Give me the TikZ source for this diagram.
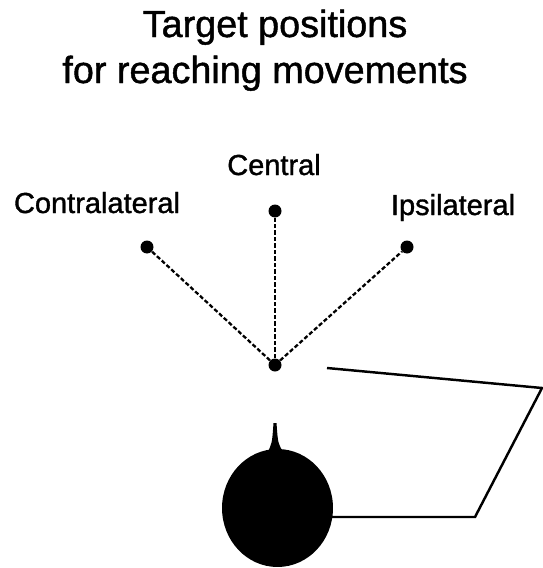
\documentclass[tikz,border=0pt]{standalone}
\usepackage{fontspec}
\setmainfont{Liberation Sans}
\newfontfamily\figfont[FakeBold=1.2]{Liberation Sans}
\usepackage{tikz}
\usetikzlibrary{shapes.geometric}
\usetikzlibrary{positioning}
\tikzstyle{target} = [circle, fill=black, inner sep=0pt, minimum size=2.6mm]
\tikzstyle{tag} = [anchor=base, font=\figfont\fontsize{16.5}{18}\selectfont]
\tikzstyle{heading} = [anchor=base, font=\figfont\fontsize{21.5}{24}\selectfont]
\tikzstyle{reach} = [line width=1.3pt, dash pattern=on 2.4pt off 1.3pt]
\tikzstyle{arm} = [line width=1.4pt, line join=miter]

\begin{document}
\begin{tikzpicture}[x=0.02cm, y=-0.02cm]

    \useasboundingbox (0,0) rectangle (542,568);

    \node (title) [heading] at (275,37) {Target positions};
    \node (subtitle) [heading] at (265,83) {for reaching movements};

    \node (start) [target] at (275,365) {};
    \node (contra) [target] at (147,247) {};
    \node (central) [target] at (275,211) {};
    \node (ipsi) [target] at (407,247) {};

    \node (contraText) [tag] at (97,213) {Contralateral};
    \node (centralText) [tag] at (274,175) {Central};
    \node (ipsiText) [tag] at (453,215) {Ipsilateral};

    \draw [reach] (start) -- (contra);
    \draw [reach] (start) -- (central);
    \draw [reach] (start) -- (ipsi);

    % arm first, the head covers the shoulder end
    \coordinate (neck) at (277.5,508);
    \coordinate (fingertip) at (327,368);
    \coordinate (wrist) at (542,388);
    \coordinate (elbow) at (475,517);
    \draw [arm] (fingertip) -- (wrist) -- (elbow) -- (elbow -| neck);
    \node (head) [ellipse, fill=black, inner sep=0pt, minimum width=2.22cm, minimum height=2.36cm] at (neck) {};

    % nose
    \coordinate (nose) at (275,423);
    \fill (267,453) .. controls (272,444) .. (273.5,423) -- (276.5,423) .. controls (278,444) .. (284,453) -- cycle;

\end{tikzpicture}
\end{document}
